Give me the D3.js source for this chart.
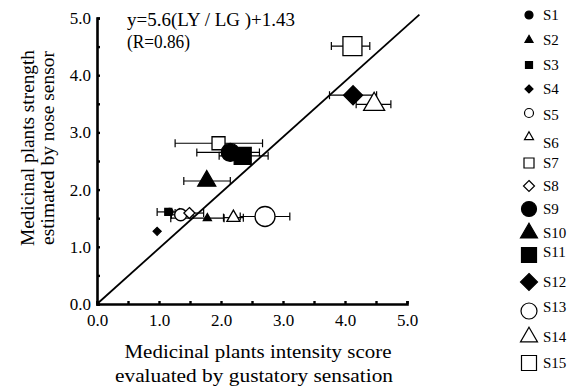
<!DOCTYPE html>
<html lang="en">
<head>
<meta charset="UTF-8">
<title>Nose sensor vs gustatory sensation</title>
<style>
  * { margin: 0; padding: 0; }
  body { background: #fff; width: 585px; height: 387px; overflow: hidden; }
  svg { display: block; }
  text { font-family: 'Liberation Serif', 'Times New Roman', serif; fill: #000; }
</style>
</head>
<body>
<svg width="585" height="387"></svg>
<script src="https://d3js.org/d3.v7.min.js"></script>
<script>
// Data
const samples = ['S1','S2','S3','S4','S5','S6','S7','S8','S9','S10','S11','S12','S13','S14','S15'];
const gustatory = [1.17, 1.78, 1.15, 0.97, 1.35, 2.20, 1.96, 1.49, 2.15, 1.77, 2.35, 4.13, 2.71, 4.47, 4.12];
const noseSensor = [1.61, 1.50, 1.61, 1.27, 1.56, 1.51, 2.81, 1.59, 2.65, 2.15, 2.59, 3.65, 1.53, 3.49, 4.51];
const errLow  = [null, 1.19, 0.97, null, 1.20, 2.04, 1.26, 1.26, 1.61, 1.40, 1.97, 3.75, 2.31, 4.18, 3.78];
const errHigh = [null, 2.05, 1.33, null, 1.55, 2.36, 2.67, 1.72, 2.62, 2.15, 2.76, 4.51, 3.11, 4.74, 4.40];
const xTicks = [0, 1, 2, 3, 4, 5];
const yTicks = [0, 1, 2, 3, 4, 5];
const minorTicks = [0.5, 1.5, 2.5, 3.5, 4.5];
const fitLine = [[0, 0], [5.2, 5.06]];

// marker look per sample: shape, filled, size in plot, size in legend
const markStyle = {
  S1: ['circle', true, 7, 8],   S2: ['triangle', true, 8, 8],
  S3: ['square', true, 7, 7],   S4: ['diamond', true, 8, 8],
  S5: ['circle', false, 12, 9], S6: ['triangle', false, 13, 9],
  S7: ['square', false, 13, 10], S8: ['diamond', false, 11, 11],
  S9: ['circle', true, 18, 15], S10: ['triangle', true, 18, 17],
  S11: ['square', true, 17, 15], S12: ['diamond', true, 19, 17],
  S13: ['circle', false, 20, 16], S14: ['triangle', false, 21, 17],
  S15: ['square', false, 19, 15]
};
const legendRows = [15, 40, 65, 89, 113, 137, 163, 186, 209, 233, 255, 282, 311, 337, 363];
const legendLabelDy = [0, 0, 0, 0, 2, 6, 0, 0, 0, 0, -3, 0, -4, 0, 0];

const svg = d3.select('svg');
const x = d3.scaleLinear().domain([0, 5]).range([97, 407]);
const y = d3.scaleLinear().domain([0, 5]).range([304, 18]);

function symbolPath(shape, d) {
  if (shape === 'circle') return d3.symbol(d3.symbolCircle, Math.PI * d * d / 4)();
  if (shape === 'square') return d3.symbol(d3.symbolSquare, d * d)();
  if (shape === 'triangle') return d3.symbol(d3.symbolTriangle, d * d * Math.sqrt(3) / 4)();
  // diamond: square turned 45deg, d = diagonal
  const h = d / 2;
  return `M0,${-h}L${h},0L0,${h}L${-h},0Z`;
}

// Diagonal line
svg.append('line')
  .attr('x1', x(fitLine[0][0])).attr('y1', y(fitLine[0][1]))
  .attr('x2', x(fitLine[1][0])).attr('y2', y(fitLine[1][1]))
  .attr('stroke', '#000').attr('stroke-width', 1.8);

// Axes
const xAxis = d3.axisBottom(x).tickValues(xTicks.concat(minorTicks)).tickSize(-3)
  .tickFormat(d => Number.isInteger(d) ? d.toFixed(1) : '');
const yAxis = d3.axisLeft(y).tickValues(yTicks.concat(minorTicks)).tickSize(-3)
  .tickFormat(d => Number.isInteger(d) ? d.toFixed(1) : '');

const gx = svg.append('g').attr('transform', 'translate(0,304)').call(xAxis);
const gy = svg.append('g').attr('transform', 'translate(97,0)').call(yAxis);
[gx, gy].forEach(g => {
  g.select('.domain').attr('stroke', '#000').attr('stroke-width', 2.6);
  g.selectAll('.tick line').attr('stroke', '#000').attr('stroke-width', 2.4);
  g.selectAll('.tick text').style('font-family', "'Liberation Serif', serif")
    .style('font-size', '17px').attr('fill', '#000');
});
gx.selectAll('.tick text').attr('y', 10);
gy.selectAll('.tick text').attr('x', -6);

// Error bars
samples.forEach((s, i) => {
  if (errLow[i] == null) return;
  const g = svg.append('g').attr('stroke', '#000').attr('stroke-width', 1.2);
  g.append('line').attr('x1', x(errLow[i])).attr('x2', x(errHigh[i]))
    .attr('y1', y(noseSensor[i])).attr('y2', y(noseSensor[i]));
  [errLow[i], errHigh[i]].forEach(v => {
    g.append('line').attr('x1', x(v)).attr('x2', x(v))
      .attr('y1', y(noseSensor[i]) - 4).attr('y2', y(noseSensor[i]) + 4);
  });
});

// Markers
samples.forEach((s, i) => {
  const [shape, filled, size] = markStyle[s];
  svg.append('path')
    .attr('d', symbolPath(shape, size))
    .attr('transform', `translate(${x(gustatory[i])},${y(noseSensor[i])})`)
    .attr('fill', filled ? '#000' : '#fff')
    .attr('stroke', '#000').attr('stroke-width', 1.3);
});

// Equation
svg.append('text').attr('x', 127).attr('y', 26).style('font-size', '18px')
  .attr('textLength', 168).attr('lengthAdjust', 'spacingAndGlyphs').text('y=5.6(LY / LG )+1.43');
svg.append('text').attr('x', 127).attr('y', 48).style('font-size', '18px')
  .attr('textLength', 63).attr('lengthAdjust', 'spacingAndGlyphs').text('(R=0.86)');

// Axis titles
const xt = svg.append('text').attr('text-anchor', 'middle').style('font-size', '19px');
xt.append('tspan').attr('x', 258).attr('y', 358).attr('textLength', 267)
  .attr('lengthAdjust', 'spacingAndGlyphs').text('Medicinal plants intensity score');
xt.append('tspan').attr('x', 254).attr('y', 382).attr('textLength', 278)
  .attr('lengthAdjust', 'spacingAndGlyphs').text('evaluated by gustatory sensation');

const yt = svg.append('text').attr('text-anchor', 'middle').style('font-size', '19px')
  .attr('transform', 'translate(0,148) rotate(-90)');
yt.append('tspan').attr('x', 0).attr('y', 34).attr('textLength', 196)
  .attr('lengthAdjust', 'spacingAndGlyphs').text('Medicinal plants strength');
yt.append('tspan').attr('x', 0).attr('y', 54).attr('textLength', 194)
  .attr('lengthAdjust', 'spacingAndGlyphs').text('estimated  by nose sensor');

// Legend
samples.forEach((s, i) => {
  const [shape, filled, , lsize] = markStyle[s];
  svg.append('path')
    .attr('d', symbolPath(shape, lsize))
    .attr('transform', `translate(529,${legendRows[i]})`)
    .attr('fill', filled ? '#000' : '#fff')
    .attr('stroke', '#000').attr('stroke-width', 1.2);
  svg.append('text').attr('x', 543).attr('y', legendRows[i] + legendLabelDy[i] + 5)
    .style('font-size', '15px').text(s);
});
</script>
</body>
</html>
